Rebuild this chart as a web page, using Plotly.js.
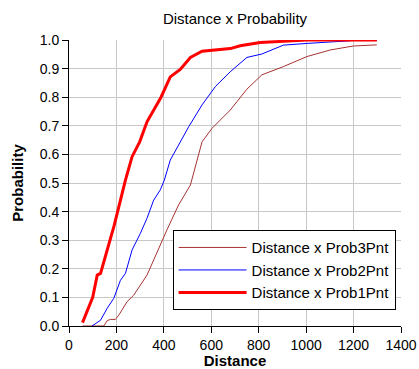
<!DOCTYPE html>
<html>
<head>
<meta charset="utf-8">
<script src="https://cdn.plot.ly/plotly-3.0.1.min.js"></script>
<style>html,body{margin:0;padding:0;background:#fff;}#chart{width:419px;height:369px;}</style>
</head>
<body>
<div id="chart"></div>
<script>
const seriesNames = ["Distance x Prob3Pnt", "Distance x Prob2Pnt", "Distance x Prob1Pnt"];

const prob1X = [57, 80, 100, 119, 133, 190, 238, 266, 298, 329, 360, 388, 427, 469, 512, 561, 680, 722, 806, 1003, 1298];
const prob1Y = [0.012, 0.06, 0.1, 0.178, 0.184, 0.35, 0.51, 0.592, 0.644, 0.714, 0.76, 0.80, 0.871, 0.897, 0.939, 0.961, 0.97, 0.98, 0.991, 1.0, 1.0];

const prob2X = [97, 133, 161, 189, 217, 238, 266, 301, 329, 357, 385, 402, 427, 505, 561, 617, 680, 722, 750, 813, 904, 1003, 1101, 1199, 1298];
const prob2Y = [0, 0.02, 0.062, 0.097, 0.16, 0.184, 0.266, 0.324, 0.377, 0.44, 0.476, 0.51, 0.58, 0.697, 0.773, 0.837, 0.889, 0.921, 0.939, 0.951, 0.982, 0.988, 0.992, 0.998, 0.998];

const prob3X = [57, 147, 161, 175, 196, 210, 245, 273, 329, 371, 413, 462, 512, 561, 603, 680, 722, 750, 813, 904, 1003, 1101, 1199, 1298];
const prob3Y = [0, 0, 0.019, 0.023, 0.023, 0.038, 0.085, 0.108, 0.178, 0.26, 0.336, 0.423, 0.493, 0.644, 0.691, 0.755, 0.80, 0.828, 0.878, 0.907, 0.942, 0.965, 0.979, 0.983];

const xTicks = [0, 200, 400, 600, 800, 1000, 1200, 1400];
const yTicks = [0, 0.1, 0.2, 0.3, 0.4, 0.5, 0.6, 0.7, 0.8, 0.9, 1.0];

const font = "Liberation Sans, Arial, sans-serif";

const traces = [
  {x: prob3X, y: prob3Y, name: seriesNames[0], mode: "lines", line: {color: "#a83232", width: 1}},
  {x: prob2X, y: prob2Y, name: seriesNames[1], mode: "lines", line: {color: "#0000ff", width: 1}},
  {x: prob1X, y: prob1Y, name: seriesNames[2], mode: "lines", line: {color: "#ff0000", width: 3}}
];

const layout = {
  width: 419, height: 369,
  margin: {l: 69, r: 18, t: 40, b: 43},
  paper_bgcolor: "#ffffff", plot_bgcolor: "#ffffff",
  font: {family: font, size: 14, color: "#000"},
  title: {text: "Distance x Probability", font: {family: font, size: 15, color: "#000"}, xref: "paper", x: 0.5, xanchor: "center", yref: "container", y: 0.949, yanchor: "middle"},
  xaxis: {
    range: [0, 1400], tickvals: xTicks, ticktext: xTicks.map(String),
    showgrid: true, gridcolor: "#c8c8c8", gridwidth: 1,
    showline: true, linecolor: "#000", linewidth: 1,
    ticks: "outside", ticklen: 6, tickcolor: "#000",
    zeroline: false, tickfont: {size: 14},
    title: {text: "<b>Distance</b>", font: {size: 15}, standoff: 6}
  },
  yaxis: {
    range: [0, 1.0], tickvals: yTicks, ticktext: yTicks.map(v => v.toFixed(1)),
    showgrid: true, gridcolor: "#c8c8c8", gridwidth: 1,
    showline: true, linecolor: "#000", linewidth: 1,
    ticks: "outside", ticklen: 6, tickcolor: "#000",
    zeroline: false, tickfont: {size: 14},
    title: {text: "<b>Probability</b>", font: {size: 15}, standoff: 12}
  },
  showlegend: true,
  legend: {
    x: 0.312, y: 0.335, xanchor: "left", yanchor: "top",
    bgcolor: "#ffffff", bordercolor: "#000", borderwidth: 1,
    font: {size: 15}, traceorder: "normal", itemwidth: 68,
    tracegroupgap: 0
  }
};

Plotly.newPlot("chart", traces, layout, {displayModeBar: false, staticPlot: true});
</script>
</body>
</html>
